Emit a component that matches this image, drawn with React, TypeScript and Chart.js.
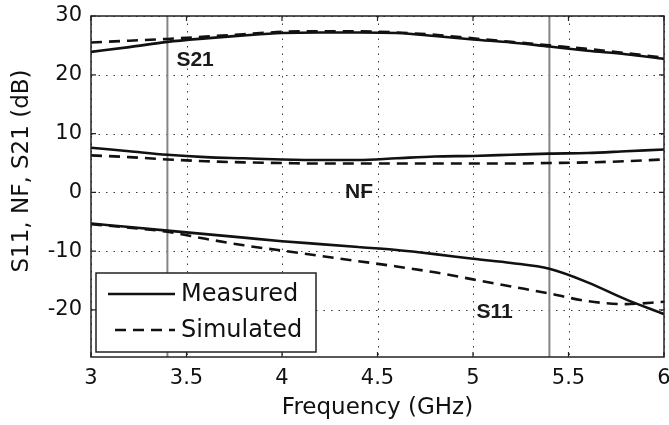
import React, { useEffect, useRef } from 'react';
import { Chart, registerables } from 'chart.js';

Chart.register(...registerables);

// ---- data ----
const freq = [3.0, 3.2, 3.4, 3.6, 3.8, 4.0, 4.2, 4.4, 4.6, 4.8, 5.0, 5.2, 5.4, 5.6, 5.8, 6.0];
const s21Measured = [23.9, 24.7, 25.6, 26.2, 26.7, 27.1, 27.2, 27.2, 27.1, 26.6, 26.0, 25.5, 24.8, 24.1, 23.5, 22.7];
const s21Simulated = [25.5, 25.8, 26.1, 26.5, 26.9, 27.3, 27.4, 27.4, 27.2, 26.8, 26.2, 25.6, 25.0, 24.4, 23.7, 22.9];
const nfMeasured = [7.6, 7.0, 6.4, 6.0, 5.8, 5.6, 5.5, 5.5, 5.8, 6.1, 6.2, 6.4, 6.6, 6.7, 7.0, 7.3];
const nfSimulated = [6.3, 6.0, 5.6, 5.3, 5.1, 5.0, 4.9, 4.9, 4.9, 4.9, 4.9, 4.9, 5.0, 5.1, 5.3, 5.6];
const s11Measured = [-5.3, -5.9, -6.5, -7.1, -7.7, -8.3, -8.8, -9.3, -9.8, -10.5, -11.3, -12.0, -13.0, -15.3, -18.2, -20.7];
const s11Simulated = [-5.4, -6.0, -6.7, -7.9, -9.0, -9.9, -10.8, -11.7, -12.6, -13.6, -14.8, -16.0, -17.2, -18.5, -19.0, -18.6];

const markerFreqs = [3.4, 5.4];
const xTicks = [3, 3.5, 4, 4.5, 5, 5.5, 6];
const yTicks = [-20, -10, 0, 10, 20, 30];
const xMin = 3;
const xMax = 6;
const yMin = -28;
const yMax = 30;

const curveLabelTexts = ['S21', 'NF', 'S11'];
const curveLabelX = [3.545, 4.403, 5.113];
const curveLabelY = [22.4, 0.1, -20.3];

const legendLabels = ['Measured', 'Simulated'];
const xTitle = 'Frequency (GHz)';
const yTitle = 'S11, NF, S21 (dB)';

const FONT = 'DejaVu Sans';
const INK = '#111111';
const DASH = [11, 7];

const pts = (ys: number[]) => freq.map((f, i) => ({ x: f, y: ys[i] }));

const curve = (label: string, ys: number[], dashed: boolean) => ({
  label,
  data: pts(ys),
  borderColor: INK,
  backgroundColor: INK,
  borderWidth: 2.6,
  borderDash: dashed ? DASH : [],
  pointRadius: 0,
  cubicInterpolationMode: 'monotone' as const,
  fill: false,
});

const framePlugin = {
  id: 'frameTicks',
  beforeDatasetsDraw(chart: any) {
    // dotted grid
    const { ctx, chartArea, scales } = chart;
    const { left, right, top, bottom } = chartArea;
    const x = scales.x;
    const y = scales.y;
    ctx.save();
    ctx.strokeStyle = '#3a3a3a';
    ctx.lineWidth = 1;
    ctx.setLineDash([1.5, 6]);
    ctx.beginPath();
    xTicks.forEach((v) => {
      const px = Math.round(x.getPixelForValue(v)) + 0.5;
      ctx.moveTo(px, top);
      ctx.lineTo(px, bottom);
    });
    yTicks.forEach((v) => {
      const py = Math.round(y.getPixelForValue(v)) + 0.5;
      ctx.moveTo(left, py);
      ctx.lineTo(right, py);
    });
    ctx.stroke();
    ctx.restore();
  },
  afterDatasetsDraw(chart: any) {
    const { ctx, chartArea, scales } = chart;
    const { left, right, top, bottom } = chartArea;
    const x = scales.x;
    const y = scales.y;
    ctx.save();
    ctx.strokeStyle = '#222';
    ctx.lineWidth = 1.5;
    ctx.setLineDash([]);
    ctx.strokeRect(left, top, right - left, bottom - top);
    ctx.lineWidth = 1.2;
    ctx.beginPath();
    xTicks.forEach((v) => {
      const px = x.getPixelForValue(v);
      ctx.moveTo(px, bottom);
      ctx.lineTo(px, bottom - 5);
      ctx.moveTo(px, top);
      ctx.lineTo(px, top + 5);
    });
    yTicks.forEach((v) => {
      const py = y.getPixelForValue(v);
      ctx.moveTo(left, py);
      ctx.lineTo(left + 5, py);
      ctx.moveTo(right, py);
      ctx.lineTo(right - 5, py);
    });
    ctx.stroke();
    ctx.restore();
  },
  afterDraw(chart: any) {
    const { ctx, chartArea, scales } = chart;
    const { left, bottom } = chartArea;
    const x = scales.x;
    const y = scales.y;
    ctx.save();
    // curve labels
    ctx.fillStyle = '#1a1a1a';
    ctx.font = 'bold 21px "Liberation Sans", Arial, sans-serif';
    ctx.textAlign = 'center';
    ctx.textBaseline = 'middle';
    curveLabelTexts.forEach((t, i) => {
      ctx.fillText(t, x.getPixelForValue(curveLabelX[i]), y.getPixelForValue(curveLabelY[i]));
    });

    // legend
    const bx = left + 5;
    const bw = 220;
    const bh = 79;
    const by = bottom - 5 - bh;
    ctx.fillStyle = '#ffffff';
    ctx.fillRect(bx, by, bw, bh);
    ctx.strokeStyle = '#222';
    ctx.lineWidth = 1.5;
    ctx.setLineDash([]);
    ctx.strokeRect(bx, by, bw, bh);
    const rows = [by + 21, by + 57];
    legendLabels.forEach((lab, i) => {
      const ly = rows[i];
      ctx.strokeStyle = INK;
      ctx.lineWidth = 2.6;
      ctx.setLineDash(i === 1 ? DASH : []);
      ctx.beginPath();
      ctx.moveTo(bx + (i === 1 ? 19 : 12), ly);
      ctx.lineTo(bx + 79, ly);
      ctx.stroke();
      ctx.setLineDash([]);
      ctx.fillStyle = INK;
      ctx.font = `24px "${FONT}"`;
      ctx.textAlign = 'left';
      ctx.textBaseline = 'middle';
      ctx.fillText(lab, bx + 85, ly + 1);
    });

    // y title
    ctx.translate(22, 171);
    ctx.rotate(-Math.PI / 2);
    ctx.fillStyle = INK;
    ctx.font = `23px "${FONT}"`;
    ctx.textAlign = 'center';
    ctx.textBaseline = 'middle';
    ctx.fillText(yTitle, 0, 0);
    ctx.restore();
  },
};

export default function App() {
  const ref = useRef<HTMLCanvasElement | null>(null);

  useEffect(() => {
    if (!ref.current) return;
    const datasets: any[] = [
      curve(legendLabels[0], s21Measured, false),
      curve(legendLabels[1], s21Simulated, true),
      curve(legendLabels[0], nfMeasured, false),
      curve(legendLabels[1], nfSimulated, true),
      curve(legendLabels[0], s11Measured, false),
      curve(legendLabels[1], s11Simulated, true),
      ...markerFreqs.map((f) => ({
        label: 'marker',
        data: [
          { x: f, y: yMin },
          { x: f, y: yMax },
        ],
        borderColor: '#858585',
        borderWidth: 2,
        pointRadius: 0,
        fill: false,
      })),
    ];

    const chart = new Chart(ref.current, {
      type: 'line',
      data: { datasets },
      plugins: [framePlugin],
      options: {
        responsive: false,
        animation: false,
        events: [],
        layout: { padding: { top: 16, right: 5, left: 0, bottom: 0 } },
        plugins: {
          legend: { display: false },
          tooltip: { enabled: false },
        },
        scales: {
          x: {
            type: 'linear',
            min: xMin,
            max: xMax,
            afterBuildTicks: (s: any) => {
              s.ticks = xTicks.map((v) => ({ value: v }));
            },
            afterFit: (s: any) => {
              s.height = 68;
              s.paddingLeft = 0;
              s.paddingRight = 0;
            },
            grid: { display: false, drawTicks: false },
            border: { display: false },
            ticks: {
              color: INK,
              padding: 9,
              maxRotation: 0,
              font: { family: FONT, size: 21 },
              callback: (v: any) => String(Number(v)),
            },
            title: {
              display: true,
              text: xTitle,
              color: INK,
              font: { family: FONT, size: 23 },
              padding: { top: 0, bottom: 3 },
            },
          },
          y: {
            type: 'linear',
            min: yMin,
            max: yMax,
            afterBuildTicks: (s: any) => {
              s.ticks = yTicks.map((v) => ({ value: v }));
            },
            afterFit: (s: any) => {
              s.width = 91;
              s.paddingTop = 0;
              s.paddingBottom = 0;
            },
            grid: { display: false, drawTicks: false },
            border: { display: false },
            ticks: {
              color: INK,
              padding: 9,
              font: { family: FONT, size: 21 },
              callback: (v: any) => String(Number(v)),
            },
          },
        },
      },
    });
    return () => chart.destroy();
  }, []);

  return (
    <div style={{ position: 'absolute', left: 0, top: 0, width: 669, height: 425, background: '#fff' }}>
      <canvas ref={ref} width={669} height={425} />
    </div>
  );
}
